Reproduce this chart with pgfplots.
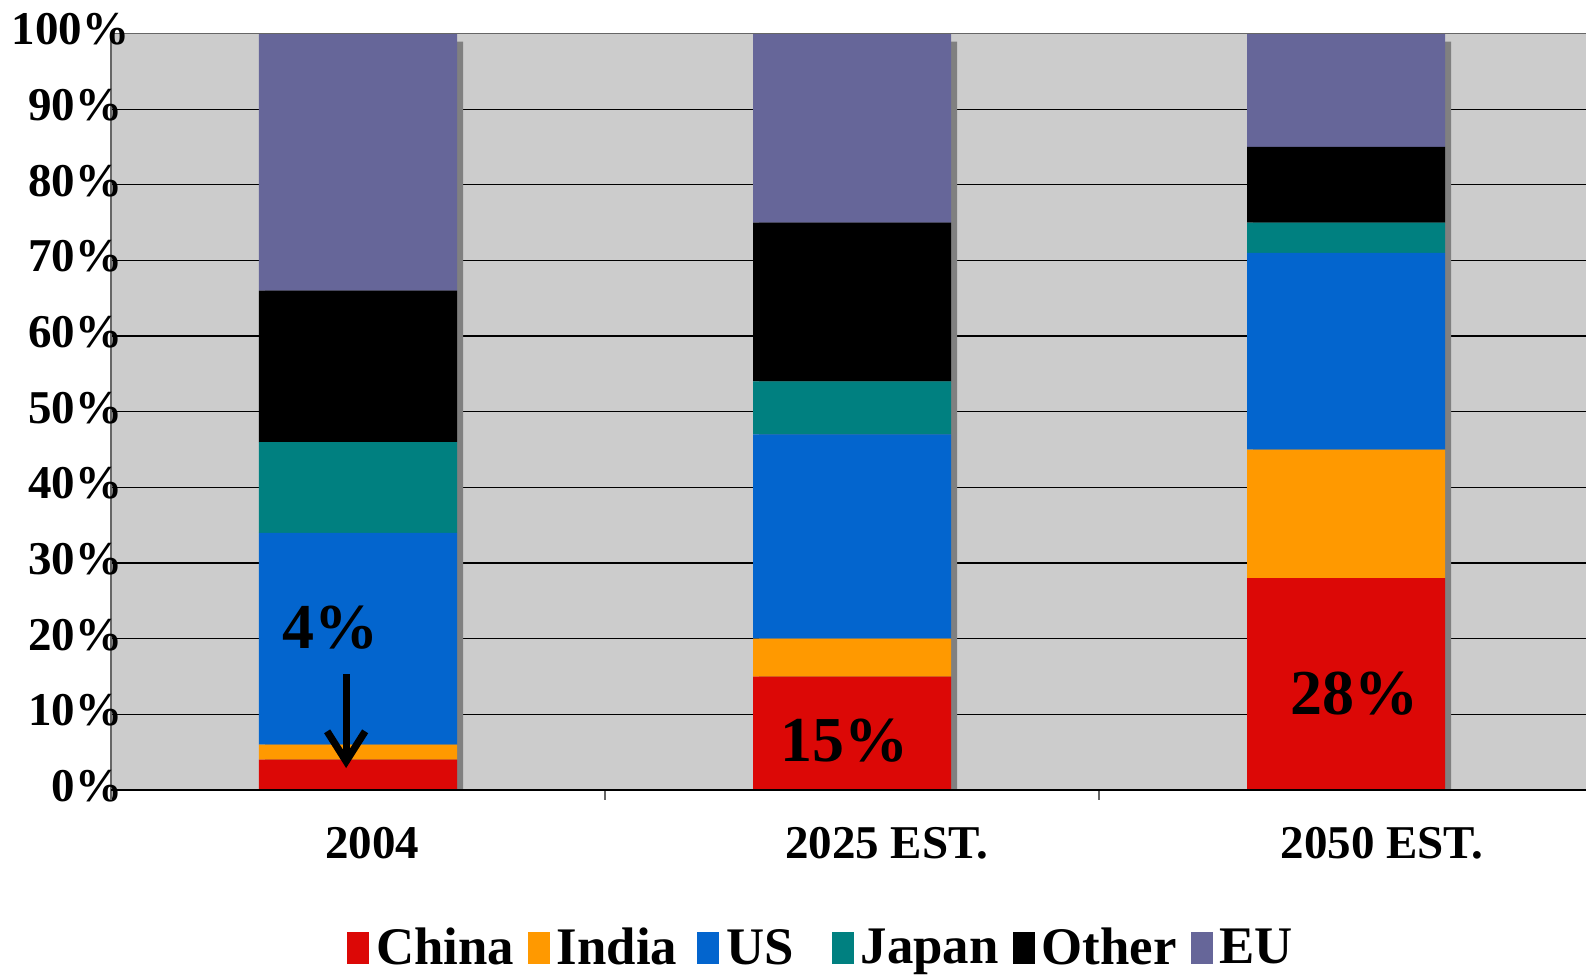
\documentclass[border=0pt]{standalone}
\usepackage{fontspec}
\setmainfont{Liberation Serif}
\usepackage{pgfplots}
\pgfplotsset{compat=1.18}
\usetikzlibrary{arrows.meta}
\definecolor{cChina}{HTML}{DC0806}
\definecolor{cIndia}{HTML}{FF9900}
\definecolor{cUS}{HTML}{0365CE}
\definecolor{cJapan}{HTML}{008080}
\definecolor{cOther}{HTML}{000000}
\definecolor{cEU}{HTML}{666699}
\definecolor{bgc}{HTML}{CCCCCC}
\definecolor{shd}{HTML}{808080}
\begin{document}
\begin{tikzpicture}
\pgfplotsset{
  base/.style={
    at={(55.5pt,92.5pt)}, anchor=south west, scale only axis,
    width=741pt, height=378.25pt,
    xmin=-0.5, xmax=2.5, ymin=0, ymax=100,
  }
}
% background, grid and bar shadows
\begin{axis}[base, ybar, bar width=99pt, bar shift=3pt,
  axis background/.style={fill=bgc},
  ymajorgrids, grid style={black, line width=0.6pt},
  ytick={10,20,...,90}, xtick=\empty, yticklabels={}, major tick length=0pt,
  axis line style={draw=none},
]
\addplot[fill=shd, draw=none] coordinates {(0,98.94) (1,98.94) (2,98.94)};
\end{axis}
% stacked bars
\begin{axis}[base, ybar stacked, bar width=99pt,
  axis on top,
  axis line style={black!60, line width=0.7pt},
  xtick={0,1,2},
  xticklabels={\hspace*{14.5pt}2004, \hspace*{34.6pt}2025 EST., \hspace*{36pt}2050 EST.},
  ytick={0,10,...,100},
  yticklabels={0\%,10\%,20\%,30\%,40\%,50\%,60\%,70\%,80\%,90\%,100\%\hspace*{-3.5pt}},
  major tick length=0pt,
  xtick pos=bottom, ytick pos=left,
  xticklabel style={font=\fontsize{23.5pt}{28pt}\selectfont\bfseries, anchor=north, inner sep=0pt, yshift=-18.5pt},
  yticklabel style={font=\fontsize{23.5pt}{28pt}\selectfont\bfseries, anchor=east, inner sep=0pt, xshift=5.8pt, yshift=2pt},
  extra x ticks={-0.5,0.5,1.5}, extra x tick labels={},
  extra x tick style={major tick length=5pt, tick align=outside, tick style={black!60, line width=0.7pt}},
  legend columns=-1,
  legend style={at={(0.4784,-0.2089)}, anchor=center, draw=none, fill=none,
    font=\fontsize{26.4pt}{31pt}\selectfont\bfseries,
    /tikz/every odd column/.append style={column sep=3.5pt},
    /tikz/every even column/.append style={column sep=7pt},
    nodes={inner sep=0pt}},
  legend image code/.code={\fill[#1] (0pt,-8pt) rectangle (11pt,8pt);},
]
\addplot[fill=cChina, draw=none] coordinates {(0,4) (1,15) (2,28)};
\addplot[fill=cIndia, draw=none] coordinates {(0,2) (1,5) (2,17)};
\addplot[fill=cUS, draw=none] coordinates {(0,28) (1,27) (2,26)};
\addplot[fill=cJapan, draw=none] coordinates {(0,12) (1,7) (2,4)};
\addplot[fill=cOther, draw=none] coordinates {(0,20) (1,21) (2,10)};
\addplot[fill=cEU, draw=none] coordinates {(0,34) (1,25) (2,15)};
\legend{China, India\hspace*{3pt}, US\hspace*{12pt}, Japan, Other, EU}
\end{axis}
% annotations and black bottom axis line on top
\begin{axis}[base, axis y line=none, axis x line*=bottom,
  x axis line style={-, black, line width=0.8pt}, xtick=\empty, ytick=\empty]
\node[font=\fontsize{32pt}{38pt}\selectfont\bfseries] at (axis cs:-0.055,21.5) {4\%};
\node[font=\fontsize{32pt}{38pt}\selectfont\bfseries] at (axis cs:0.984,6.5) {15\%};
\node[font=\fontsize{32pt}{38pt}\selectfont\bfseries] at (axis cs:2.018,12.7) {28\%};
\draw[line width=3.6pt, -{Straight Barb[length=15pt,width=19pt]}] (axis cs:-0.024,15.3) -- (axis cs:-0.024,2.9);
\end{axis}
\pgfresetboundingbox
\path[use as bounding box] (0,0) rectangle (793pt,487.5pt);
\end{tikzpicture}
\end{document}
